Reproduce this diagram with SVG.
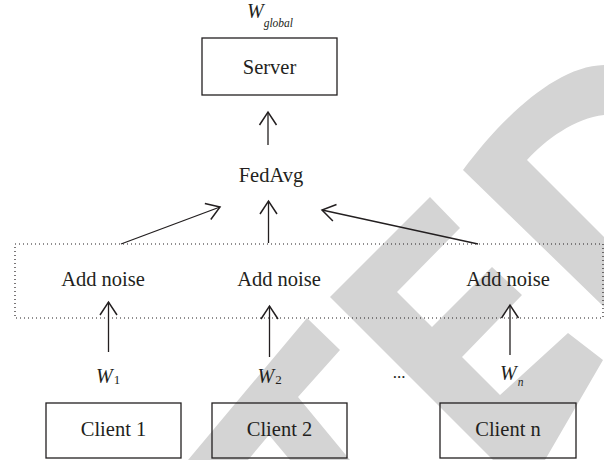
<svg xmlns="http://www.w3.org/2000/svg" width="604" height="460" viewBox="0 0 604 460">
<style>
.bx{fill:none;stroke:#231f20;stroke-width:1.3}
.t{font-family:'Liberation Serif','DejaVu Serif',serif;font-size:20.5px;fill:#231f20;text-anchor:middle}
.w{font-family:'Liberation Serif','DejaVu Serif',serif;font-style:italic;font-size:20px;fill:#231f20}
.sub{font-family:'Liberation Serif','DejaVu Serif',serif;font-size:13px;fill:#231f20}
.subi{font-family:'Liberation Serif','DejaVu Serif',serif;font-style:italic;font-size:11.5px;fill:#231f20}
.ln{fill:none;stroke:#231f20;stroke-width:1.3;marker-end:url(#ah)}
.wm{fill:#d4d4d4;stroke:none}
</style>
<defs>
<marker id="ah" markerUnits="userSpaceOnUse" markerWidth="30" markerHeight="30" viewBox="-15 -15 30 30" refX="0" refY="0" orient="auto">
<path d="M-13,-8.5 L0,0 L-13,8.5" fill="none" stroke="#231f20" stroke-width="1.5"/>
</marker>
</defs>
<rect width="604" height="460" fill="#ffffff"/>
<g id="watermark">
<polygon class="wm" points="188,460 307,318 340,350 298,397 350,460 290,460 269,435 248,460"/>
<polygon class="wm" points="330,297 430,197 460,228 397,292 432,327 492,267 522,295 462,357 500,395 568,333 603,360 545,460 493,460"/>
<path class="wm" d="M463,170 C500,120 555,66 604,65 L604,115 C575,118 545,140 527,160 L604,237 L604,307 Z"/>
</g>
<g id="connectors">
<line class="ln" x1="268" y1="145" x2="268" y2="112"/>
<line class="ln" x1="121" y1="244" x2="220" y2="207"/>
<line class="ln" x1="268.5" y1="243" x2="268.5" y2="201"/>
<line class="ln" x1="478" y1="244" x2="322" y2="210"/>
<line class="ln" x1="108.5" y1="352" x2="108.5" y2="302"/>
<line class="ln" x1="269.5" y1="357" x2="269.5" y2="306"/>
<line class="ln" x1="510" y1="355" x2="510" y2="305"/>
</g>
<g id="noise-group">
<rect x="15" y="244" width="588" height="74" fill="none" stroke="#231f20" stroke-width="1.2" stroke-dasharray="1 3"/>
</g>
<g id="server">
<rect class="bx" x="202" y="38" width="135" height="57"/>
<text class="t" x="269.5" y="74">Server</text>
</g>
<g id="fedavg">
<text class="t" x="271" y="182">FedAvg</text>
</g>
<g id="noise1">
<text class="t" x="103" y="286">Add noise</text>
</g>
<g id="noise2">
<text class="t" x="279" y="286">Add noise</text>
</g>
<g id="noisen">
<text class="t" x="508" y="286">Add noise</text>
</g>
<g id="client1">
<rect class="bx" x="46" y="403" width="135" height="55"/>
<text class="t" x="113.5" y="436">Client 1</text>
</g>
<g id="client2">
<rect class="bx" x="212" y="403" width="135" height="55"/>
<text class="t" x="279.5" y="436">Client 2</text>
</g>
<g id="clientn">
<rect class="bx" x="440" y="403" width="136" height="55"/>
<text class="t" x="508" y="436">Client n</text>
</g>
<g id="labels">
<text x="247" y="18"><tspan class="w">W</tspan><tspan class="subi" dy="9">global</tspan></text>
<text x="96" y="383"><tspan class="w">W</tspan><tspan class="sub" dx="1" dy="1">1</tspan></text>
<text x="257.5" y="383"><tspan class="w">W</tspan><tspan class="sub" dx="1" dy="1">2</tspan></text>
<text x="500" y="380"><tspan class="w">W</tspan><tspan class="subi" dx="1" dy="6">n</tspan></text>
<text class="t" x="399" y="378" style="font-size:17px">...</text>
</g>
</svg>
